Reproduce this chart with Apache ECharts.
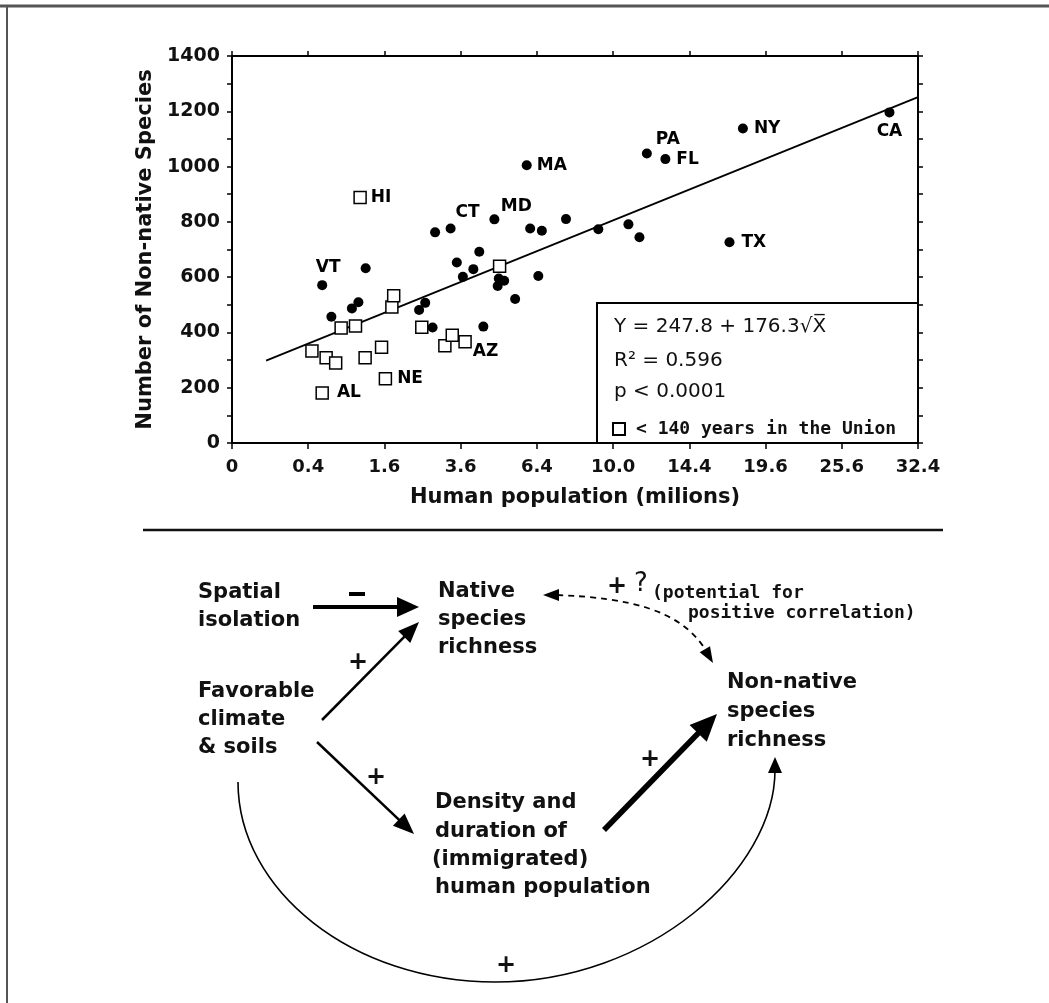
<!DOCTYPE html>
<html><head><meta charset="utf-8">
<script src="https://cdn.jsdelivr.net/npm/echarts@6/dist/echarts.min.js"></script>
<style>html,body{margin:0;padding:0;background:#fff}#c{width:1049px;height:1003px}</style>
</head><body><div id="c"></div>
<script>
// ---- data ----
const xTickLabels = ['0','0.4','1.6','3.6','6.4','10.0','14.4','19.6','25.6','32.4'];
const xTickStep = 0.4;   // square-root axis: tick k shows 0.4*k^2 millions
const yTickValues = [0,200,400,600,800,1000,1200,1400];

// states with >= 140 years in the Union (filled dots)
const filledPop = [0.56,0.68,0.99,1.10,1.23,2.41,2.57,2.77,2.84,3.29,3.48,3.67,4.01,4.21,4.35,4.74,4.90,5.10,4.86,5.52,5.98,6.12,6.61,6.46,7.68,9.24,10.82,11.43,11.85,12.93,17.04,17.97,29.76];
const filledSpecies = [571,457,487,509,632,481,507,418,762,776,653,601,629,692,421,809,595,587,568,521,1005,776,768,604,810,773,791,744,1047,1027,726,1138,1196];
const filledStates = ['VT','','','','','','','','','CT','','','','','','MD','','','','','MA','','','','','','','','PA','FL','TX','NY','CA'];

// states with < 140 years in the Union (open squares)
const openPop = [0.44,0.56,0.61,0.74,0.82,1.05,1.22,1.54,1.62,1.76,1.80,2.48,3.12,3.34,3.74,1.13,4.93];
const openSpecies = [333,181,308,289,416,423,308,346,232,492,533,419,352,390,366,888,639];
const openStates = ['','AL','','','','','','','NE','','','','','','AZ','HI',''];

// fitted line Y = 247.8 + 176.3 sqrt(X), end points
const fitPop = [0.08, 32.4];
const fitSpecies = [298, 1251];

// ---- label placement (style, not data) ----
const labelPlace = {
  VT:{position:'top',offset:[6,1]}, CT:{position:'top',offset:[17,3]}, MD:{position:'top',offset:[22,6]},
  MA:{position:'right',offset:[0,0]}, PA:{position:'top',offset:[21,4]}, FL:{position:'right',offset:[1,0]},
  TX:{position:'right',offset:[2,0]}, NY:{position:'right',offset:[1,0]}, CA:{position:'bottom',offset:[0,1]},
  AL:{position:'right',offset:[3,0]}, NE:{position:'right',offset:[0,0]}, AZ:{position:'right',offset:[-4,10]},
  HI:{position:'right',offset:[-1,0]}
};

const toAxis = p => Math.sqrt(p / xTickStep);
function buildPoints(pop, sp, st){
  return pop.map((p,i)=>{
    const d = {value:[toAxis(p), sp[i]]};
    if (st[i]) d.label = Object.assign({show:true, formatter: st[i]}, labelPlace[st[i]]);
    return d;
  });
}

const F = '"DejaVu Sans"';
const BOLD = s => 'bold ' + s + 'px ' + F;
function txt(x,y,s,font,align){
  return {type:'text', x:x, y:y, silent:true,
    style:{text:s, font:font, fill:'#111', textAlign:align||'left', textVerticalAlign:'middle', verticalAlign:'middle'}};
}
function head(tx,ty,dx,dy,len,wid){
  const L=Math.hypot(dx,dy), ux=dx/L, uy=dy/L, nx=-uy, ny=ux;
  const bx=tx-ux*len, by=ty-uy*len;
  return {type:'polygon', silent:true, shape:{points:[[tx,ty],[bx+nx*wid/2,by+ny*wid/2],[bx-nx*wid/2,by-ny*wid/2]]}, style:{fill:'#000'}};
}
function arrow(x1,y1,x2,y2,lw,len,wid){
  const L=Math.hypot(x2-x1,y2-y1), ux=(x2-x1)/L, uy=(y2-y1)/L;
  return [
    {type:'line', silent:true, shape:{x1:x1,y1:y1,x2:x2-ux*len*0.7,y2:y2-uy*len*0.7}, style:{stroke:'#000', lineWidth:lw}},
    head(x2,y2,x2-x1,y2-y1,len,wid)
  ];
}

const graphics = [
  {type:'line', silent:true, shape:{x1:0,y1:6,x2:1049,y2:6}, style:{stroke:'#555', lineWidth:3}},
  {type:'line', silent:true, shape:{x1:7,y1:6,x2:7,y2:1003}, style:{stroke:'#555', lineWidth:2}},
  // stats box
  {type:'rect', silent:true, shape:{x:597,y:303,width:321,height:140}, style:{stroke:'#000', lineWidth:2, fill:'rgba(0,0,0,0)'}},
  txt(614,327,'Y = 247.8 + 176.3\u221AX\u0305','20px '+F),
  txt(614,361,'R\u00B2 = 0.596','20px '+F),
  txt(614,392,'p < 0.0001','20px '+F),
  // separator
  {type:'line', silent:true, shape:{x1:143,y1:530,x2:943,y2:530}, style:{stroke:'#111', lineWidth:2.5}},
  // diagram text
  txt(198,593,'Spatial',BOLD(21)), txt(198,621,'isolation',BOLD(21)),
  txt(198,692,'Favorable',BOLD(21)), txt(198,720,'climate',BOLD(21)), txt(198,748,'& soils',BOLD(21)),
  txt(438,592,'Native',BOLD(21)), txt(438,620,'species',BOLD(21)), txt(438,648,'richness',BOLD(21)),
  txt(727,683,'Non-native',BOLD(21)), txt(727,712,'species',BOLD(21)), txt(727,741,'richness',BOLD(21)),
  txt(435,803,'Density and',BOLD(21)), txt(435,832,'duration of',BOLD(21)), txt(432,860,'(immigrated)',BOLD(21)), txt(435,888,'human population',BOLD(21)),
  txt(652,593,'(potential for','bold 18px "DejaVu Sans Mono"'),
  txt(688,613,'positive correlation)','bold 18px "DejaVu Sans Mono"'),
  // signs
  {type:'line', silent:true, shape:{x1:349,y1:594,x2:365,y2:594}, style:{stroke:'#000', lineWidth:4}},
  txt(358,663,'+',BOLD(24),'center'), txt(376,778,'+',BOLD(24),'center'),
  txt(650,760,'+',BOLD(24),'center'), txt(506,966,'+',BOLD(24),'center'),
  txt(617,587,'+',BOLD(24),'center'), txt(641,584,'?','26px '+F,'center'),
  // arrows
  ...arrow(313,607,419,607,4,22,20),
  ...arrow(322,720,419,622,2.5,21,17),
  ...arrow(317,742,414,834,2.5,21,17),
  ...arrow(604,830,717,714,5.5,27,24),
  // big arc
  {type:'bezierCurve', silent:true, shape:{x1:238,y1:782,cpx1:238,cpy1:891,cpx2:353,cpy2:982,x2:495,y2:982}, style:{stroke:'#000', lineWidth:1.6, fill:'none'}},
  {type:'bezierCurve', silent:true, shape:{x1:495,y1:982,cpx1:650,cpy1:982,cpx2:775,cpy2:870,x2:775,y2:770}, style:{stroke:'#000', lineWidth:1.6, fill:'none'}},
  head(775,757,0,-1,16,14),
  // dashed link
  {type:'bezierCurve', silent:true, shape:{x1:557,y1:595,cpx1:630,cpy1:598,cpx2:680,cpy2:610,x2:705,y2:649}, style:{stroke:'#000', lineWidth:1.8, lineDash:[6,5], fill:'none'}},
  head(543,595,-1,0,16,12),
  head(713,663,26,44,16,12)
];

const axisLineStyle = {color:'#000', width:2};
const chart = echarts.init(document.getElementById('c'), null, {renderer:'canvas'});
chart.setOption({
  animation:false,
  backgroundColor:'#fff',
  grid:{left:232, right:131, top:56, bottom:560},
  legend:{data:['< 140 years in the Union'], left:612, top:420, padding:0, itemWidth:12, itemHeight:12,
    selectedMode:false, textStyle:{fontFamily:'DejaVu Sans Mono', fontWeight:'bold', fontSize:18, color:'#111', padding:[0,0,0,6]}},
  xAxis:[
    {type:'value', min:0, max:9, interval:1, position:'bottom',
      axisLine:{show:true, onZero:false, lineStyle:axisLineStyle},
      axisTick:{show:true, length:6, lineStyle:{color:'#000', width:1.5}},
      splitLine:{show:false},
      axisLabel:{formatter:v=>xTickLabels[Math.round(v)], margin:15, color:'#111', fontFamily:'DejaVu Sans', fontWeight:'bold', fontSize:18, showMinLabel:true, showMaxLabel:true},
      name:'Human population (milions)', nameLocation:'middle', nameGap:44,
      nameTextStyle:{fontFamily:'DejaVu Sans', fontWeight:'bold', fontSize:21, color:'#111'}},
    {type:'value', min:0, max:9, interval:1, position:'top',
      axisLine:{show:true, onZero:false, lineStyle:axisLineStyle},
      axisTick:{show:true, length:5, lineStyle:{color:'#000', width:1.5}},
      splitLine:{show:false}, axisLabel:{show:false}}
  ],
  yAxis:[
    {type:'value', min:0, max:1400, interval:100, position:'left',
      axisLine:{show:true, onZero:false, lineStyle:axisLineStyle},
      axisTick:{show:true, length:5, lineStyle:{color:'#000', width:1.5}},
      splitLine:{show:false},
      axisLabel:{formatter:v=>yTickValues.indexOf(v)>=0?String(v):'', margin:12, color:'#111', fontFamily:'DejaVu Sans', fontWeight:'bold', fontSize:19, showMinLabel:true, showMaxLabel:true},
      name:'Number of Non-native Species', nameLocation:'middle', nameGap:74, nameRotate:90,
      nameTextStyle:{fontFamily:'DejaVu Sans', fontWeight:'bold', fontSize:21, color:'#111'}},
    {type:'value', min:0, max:1400, interval:100, position:'right',
      axisLine:{show:true, onZero:false, lineStyle:axisLineStyle},
      axisTick:{show:true, length:5, lineStyle:{color:'#000', width:1.5}},
      splitLine:{show:false}, axisLabel:{show:false}}
  ],
  series:[
    {type:'line', name:'fit', silent:true, symbol:'none', z:1,
      data:fitPop.map((p,i)=>[toAxis(p), fitSpecies[i]]),
      lineStyle:{color:'#000', width:1.8}},
    {type:'scatter', name:'>= 140 years', symbol:'circle', symbolSize:10, z:3,
      itemStyle:{color:'#000', opacity:1},
      label:{fontFamily:'DejaVu Sans', fontWeight:'bold', fontSize:17, color:'#000', opacity:1},
      data:buildPoints(filledPop, filledSpecies, filledStates)},
    {type:'scatter', name:'< 140 years in the Union', symbol:'rect', symbolSize:12, z:4,
      itemStyle:{color:'#fff', borderColor:'#000', borderWidth:1.5, opacity:1},
      label:{fontFamily:'DejaVu Sans', fontWeight:'bold', fontSize:17, color:'#000', opacity:1},
      data:buildPoints(openPop, openSpecies, openStates)}
  ],
  graphic:graphics
});
</script></body></html>
